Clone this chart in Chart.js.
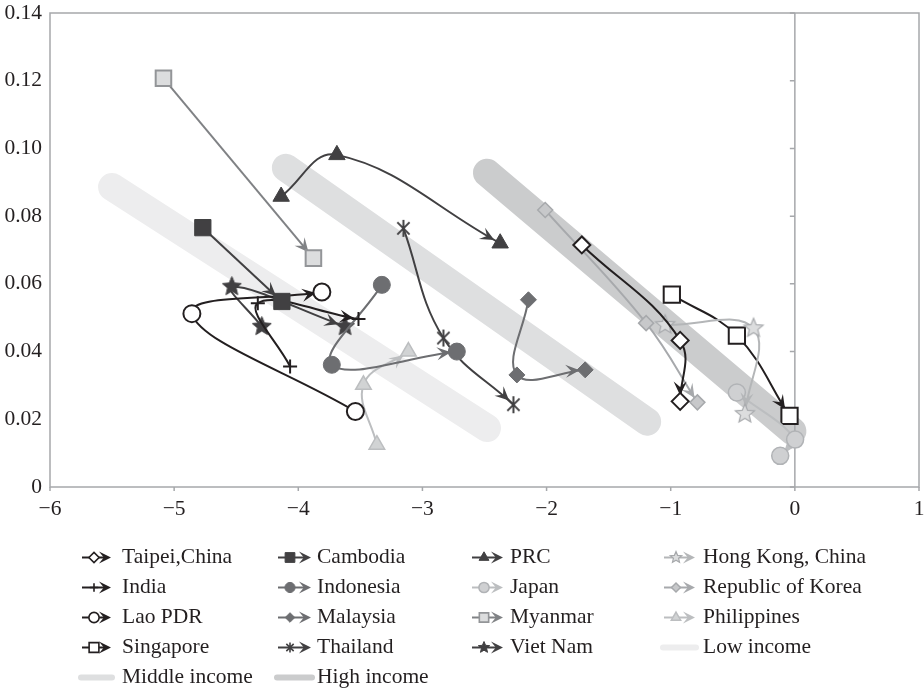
<!DOCTYPE html>
<html lang="en">
<head>
<meta charset="UTF-8">
<title>Income groups and paths</title>
<script src="https://cdn.jsdelivr.net/npm/chart.js@4"></script>
<style>
  html, body { margin: 0; padding: 0; background: #fff; overflow: hidden; }
  #chart { display: block; }
</style>
</head>
<body>
<canvas id="chart" width="924" height="692"></canvas>
<script>
// values (x, y per country, in time order)
const taipeiX = [-1.716, -0.924, -0.924];
const taipeiY = [0.0715, 0.0433, 0.0253];
const cambodiaX = [-4.769, -4.132];
const cambodiaY = [0.0766, 0.0548];
const prcX = [-4.138, -3.689, -2.374];
const prcY = [0.0858, 0.0981, 0.0720];
const hongKongX = [-1.045, -0.333, -0.403];
const hongKongY = [0.0479, 0.0469, 0.0216];
const indiaX = [-4.066, -4.326, -3.515];
const indiaY = [0.0356, 0.0543, 0.0496];
const indonesiaX = [-3.327, -3.730, -2.723];
const indonesiaY = [0.0597, 0.0361, 0.0400];
const japanX = [-0.467, 0.002, -0.118];
const japanY = [0.0279, 0.0140, 0.0092];
const koreaX = [-2.011, -1.198, -0.785];
const koreaY = [0.0818, 0.0484, 0.0250];
const laoX = [-3.540, -4.857, -3.810];
const laoY = [0.0223, 0.0512, 0.0576];
const malaysiaX = [-2.146, -2.239, -1.689];
const malaysiaY = [0.0553, 0.0331, 0.0346];
const myanmarX = [-5.086, -3.878];
const myanmarY = [0.1207, 0.0676];
const philippinesX = [-3.367, -3.475, -3.113];
const philippinesY = [0.0125, 0.0302, 0.0400];
const singaporeX = [-0.991, -0.467, -0.043];
const singaporeY = [0.0568, 0.0447, 0.0210];
const thailandX = [-3.153, -2.831, -2.267];
const thailandY = [0.0764, 0.0440, 0.0243];
const vietNamX = [-4.294, -4.535, -3.623];
const vietNamY = [0.0474, 0.0592, 0.0474];

// income bands
const lowIncomeX = [-5.50, -2.48];
const lowIncomeY = [0.0886, 0.0174];
const middleIncomeX = [-4.10, -1.19];
const middleIncomeY = [0.0943, 0.0193];
const highIncomeX = [-2.48, -0.02];
const highIncomeY = [0.0928, 0.0165];

const xTicks = [-6, -5, -4, -3, -2, -1, 0, 1];
const yTicks = [0, 0.02, 0.04, 0.06, 0.08, 0.10, 0.12, 0.14];

const FONT = '"Liberation Serif", "Times New Roman", serif';
const INK = '#231f20';
const FRAME = '#a6a8ab';

function pts(xs, ys) {
  return xs.map((x, i) => ({ x: x, y: ys[i] }));
}

// marker shapes (used for custom point images and for the legend)
function drawMark(ctx, shape, x, y, r, fill, stroke, lw) {
  ctx.save();
  ctx.beginPath();
  ctx.lineWidth = lw;
  ctx.strokeStyle = stroke;
  ctx.fillStyle = fill;
  ctx.lineJoin = 'miter';
  if (shape === 'circle') {
    ctx.arc(x, y, r, 0, Math.PI * 2);
  } else if (shape === 'rect') {
    const s = r * Math.SQRT1_2;
    ctx.rect(x - s, y - s, 2 * s, 2 * s);
  } else if (shape === 'rectRot') {
    ctx.moveTo(x - r, y); ctx.lineTo(x, y - r); ctx.lineTo(x + r, y); ctx.lineTo(x, y + r);
    ctx.closePath();
  } else if (shape === 'triangle') {
    for (let k = 0; k < 3; k++) {
      const a = -Math.PI / 2 + k * 2 * Math.PI / 3;
      const px = x + Math.cos(a) * r, py = y + Math.sin(a) * r;
      if (k) ctx.lineTo(px, py); else ctx.moveTo(px, py);
    }
    ctx.closePath();
  } else if (shape === 'star5') {
    for (let k = 0; k < 10; k++) {
      const rr = k % 2 ? r * 0.45 : r;
      const a = -Math.PI / 2 + k * Math.PI / 5;
      const px = x + Math.cos(a) * rr, py = y + Math.sin(a) * rr;
      if (k) ctx.lineTo(px, py); else ctx.moveTo(px, py);
    }
    ctx.closePath();
  } else if (shape === 'cross') {
    ctx.moveTo(x - r, y); ctx.lineTo(x + r, y);
    ctx.moveTo(x, y - r); ctx.lineTo(x, y + r);
    ctx.stroke();
    ctx.restore();
    return;
  } else if (shape === 'asterisk') {
    const d = r * 0.72;
    ctx.moveTo(x - d, y - d); ctx.lineTo(x + d, y + d);
    ctx.moveTo(x - d, y + d); ctx.lineTo(x + d, y - d);
    ctx.moveTo(x, y - r); ctx.lineTo(x, y + r);
    ctx.stroke();
    ctx.restore();
    return;
  }
  ctx.fill();
  if (lw) ctx.stroke();
  ctx.restore();
}

function markCanvas(shape, r, fill, stroke, lw) {
  const c = document.createElement('canvas');
  const size = Math.ceil(2 * r + lw + 2);
  c.width = size;
  c.height = size;
  drawMark(c.getContext('2d'), shape, size / 2, size / 2, r, fill, stroke, lw);
  return c;
}

function drawArrow(ctx, x, y, ang, len, half, color) {
  ctx.save();
  ctx.translate(x, y);
  ctx.rotate(ang);
  ctx.beginPath();
  ctx.moveTo(0, 0);
  ctx.lineTo(-len, -half);
  ctx.lineTo(-len * 0.6, 0);
  ctx.lineTo(-len, half);
  ctx.closePath();
  ctx.fillStyle = color;
  ctx.fill();
  ctx.restore();
}

// country series, in legend order
const countries = [
  ['Taipei,China', taipeiX, taipeiY, { line: INK, shape: 'rectRot', r: 8.5, fill: '#fff', edge: INK, lw: 2 }],
  ['Cambodia', cambodiaX, cambodiaY, { line: '#414042', shape: 'rect', r: 11.5, fill: '#414042', edge: '#414042', lw: 1 }],
  ['PRC', prcX, prcY, { line: '#414042', shape: 'triangle', r: 9.5, fill: '#414042', edge: '#414042', lw: 1 }],
  ['Hong Kong, China', hongKongX, hongKongY, { line: '#b4b6b8', shape: 'star5', r: 10, fill: '#dcddde', edge: '#a7a9ac', lw: 1.2, custom: true }],
  ['India', indiaX, indiaY, { line: INK, shape: 'cross', r: 7, fill: INK, edge: INK, lw: 2 }],
  ['Indonesia', indonesiaX, indonesiaY, { line: '#6d6e71', shape: 'circle', r: 8.5, fill: '#6d6e71', edge: '#6d6e71', lw: 1 }],
  ['Japan', japanX, japanY, { line: '#bcbec0', shape: 'circle', r: 8.5, fill: '#cfd0d2', edge: '#b1b3b6', lw: 1.5 }],
  ['Republic of Korea', koreaX, koreaY, { line: '#a7a9ac', shape: 'rectRot', r: 7.5, fill: '#c7c8ca', edge: '#a7a9ac', lw: 1.5 }],
  ['Lao PDR', laoX, laoY, { line: INK, shape: 'circle', r: 8.5, fill: '#fff', edge: INK, lw: 2 }],
  ['Malaysia', malaysiaX, malaysiaY, { line: '#6d6e71', shape: 'rectRot', r: 8, fill: '#6d6e71', edge: '#6d6e71', lw: 1 }],
  ['Myanmar', myanmarX, myanmarY, { line: '#808285', shape: 'rect', r: 11, fill: '#dcddde', edge: '#939598', lw: 2 }],
  ['Philippines', philippinesX, philippinesY, { line: '#bcbec0', shape: 'triangle', r: 9, fill: '#d1d3d4', edge: '#bcbec0', lw: 1.5 }],
  ['Singapore', singaporeX, singaporeY, { line: INK, shape: 'rect', r: 11.5, fill: '#fff', edge: INK, lw: 2 }],
  ['Thailand', thailandX, thailandY, { line: '#414042', shape: 'asterisk', r: 8.5, fill: '#414042', edge: '#414042', lw: 2, custom: true }],
  ['Viet Nam', vietNamX, vietNamY, { line: '#414042', shape: 'star5', r: 10, fill: '#414042', edge: '#414042', lw: 1, custom: true }]
];

const bands = [
  ['Low income', lowIncomeX, lowIncomeY, '#ededee', 12],
  ['Middle income', middleIncomeX, middleIncomeY, '#dedfe0', 11],
  ['High income', highIncomeX, highIncomeY, '#cbcccd', 10]
];

const datasets = [];
countries.forEach(([label, xs, ys, st]) => {
  datasets.push({
    label: label,
    data: pts(xs, ys),
    showLine: true,
    borderColor: st.line,
    borderWidth: 2,
    tension: xs.length > 2 ? 0.4 : 0,
    pointStyle: st.custom ? markCanvas(st.shape, st.r, st.fill, st.edge, st.lw) : st.shape,
    pointRadius: st.r,
    pointBackgroundColor: st.fill,
    pointBorderColor: st.edge,
    pointBorderWidth: st.lw,
    arrow: true,
    mark: st,
    order: 0
  });
});
bands.forEach(([label, xs, ys, color, ord]) => {
  datasets.push({
    label: label,
    data: pts(xs, ys),
    showLine: true,
    borderColor: color,
    borderWidth: 28,
    borderCapStyle: 'round',
    pointRadius: 0,
    band: true,
    order: ord
  });
});

// arrowheads at the end of each path
const arrowPlugin = {
  id: 'arrows',
  beforeDatasetDraw(chart, args) {
    const ds = chart.data.datasets[args.index];
    if (!ds.arrow) return;
    const meta = args.meta;
    const p = meta.data;
    if (meta.dataset && ds.tension) meta.dataset.updateControlPoints(chart.chartArea, meta.indexAxis);
    const last = p[p.length - 1];
    let fx = last.cp1x, fy = last.cp1y;
    if (fx === undefined || Math.hypot(last.x - fx, last.y - fy) < 1) {
      fx = p[p.length - 2].x; fy = p[p.length - 2].y;
    }
    const a = Math.atan2(last.y - fy, last.x - fx);
    const back = ds.pointRadius * 0.7;
    const ctx = chart.ctx;
    ctx.save();
    ctx.beginPath();
    ctx.rect(chart.chartArea.left, chart.chartArea.top, chart.chartArea.width, chart.chartArea.height);
    ctx.clip();
    drawArrow(ctx, last.x - Math.cos(a) * back, last.y - Math.sin(a) * back, a, 14, 6.5, ds.borderColor);
    ctx.restore();
  },
  // plot frame, zero line and tick marks, drawn over the bands
  afterDatasetDraw(chart, args) {
    const ds = chart.data.datasets[args.index];
    if (ds.label !== 'High income') return;
    const ctx = chart.ctx, area = chart.chartArea;
    const xs = chart.scales.x, ys = chart.scales.y;
    ctx.save();
    ctx.strokeStyle = FRAME;
    ctx.lineWidth = 1.5;
    ctx.strokeRect(area.left, area.top, area.width, area.height);
    const x0 = xs.getPixelForValue(0);
    ctx.beginPath();
    ctx.moveTo(x0, area.top);
    ctx.lineTo(x0, area.bottom);
    yTicks.forEach(v => {
      const py = ys.getPixelForValue(v);
      ctx.moveTo(x0 - 5, py);
      ctx.lineTo(x0, py);
    });
    xTicks.forEach(v => {
      const px = xs.getPixelForValue(v);
      ctx.moveTo(px, area.bottom);
      ctx.lineTo(px, area.bottom + 4);
    });
    ctx.stroke();
    ctx.restore();
  }
};

// legend laid out in four columns
const legendCols = [
  { icon0: 82, icon1: 111, text: 122 },
  { icon0: 278, icon1: 311, text: 317 },
  { icon0: 472, icon1: 503, text: 510 },
  { icon0: 664, icon1: 695, text: 703 }
];
const legendRowY = [557.5, 587.5, 617.5, 647.5, 677.5];

const legendPlugin = {
  id: 'gridLegend',
  afterDraw(chart) {
    const ctx = chart.ctx;
    const items = countries.map(c => c[0]).concat(bands.map(b => b[0]));
    ctx.save();
    ctx.font = '21.5px ' + FONT;
    ctx.textBaseline = 'middle';
    ctx.fillStyle = INK;
    items.forEach((label, i) => {
      const ds = chart.data.datasets.find(d => d.label === label);
      const col = legendCols[i % 4], y = legendRowY[Math.floor(i / 4)];
      if (ds.band) {
        ctx.save();
        ctx.strokeStyle = ds.borderColor;
        ctx.lineWidth = 6;
        ctx.lineCap = 'round';
        ctx.beginPath();
        ctx.moveTo(col.icon0 - 1, y);
        ctx.lineTo(col.icon1 + 1, y);
        ctx.stroke();
        ctx.restore();
      } else {
        const st = ds.mark;
        ctx.save();
        ctx.strokeStyle = ds.borderColor;
        ctx.lineWidth = 2;
        ctx.beginPath();
        ctx.moveTo(col.icon0, y);
        ctx.lineTo(col.icon1 - 6, y);
        ctx.stroke();
        drawArrow(ctx, col.icon1, y, 0, 12, 6, ds.borderColor);
        drawMark(ctx, st.shape, col.icon0 + 12, y, st.r * 0.6, st.fill, st.edge, Math.min(st.lw, 1.6));
        ctx.restore();
      }
      ctx.fillText(label, col.text, y);
    });
    ctx.restore();
  }
};

new Chart(document.getElementById('chart'), {
  type: 'scatter',
  data: { datasets: datasets },
  options: {
    responsive: false,
    animation: false,
    devicePixelRatio: 1,
    events: [],
    layout: { autoPadding: false, padding: { top: 13, right: 5, left: 0, bottom: 0 } },
    plugins: { legend: { display: false }, tooltip: { enabled: false } },
    scales: {
      x: {
        type: 'linear',
        min: -6,
        max: 1,
        afterBuildTicks: s => { s.ticks = xTicks.map(v => ({ value: v })); },
        afterFit: s => { s.height = 205; s.paddingLeft = 0; s.paddingRight = 0; },
        // tick marks are drawn by the plugin; tickLength only spaces the labels
        grid: { display: false, drawTicks: true, tickLength: 9 },
        border: { display: false },
        ticks: {
          padding: 0,
          color: INK,
          font: { family: FONT, size: 21.5 },
          callback: v => (v < 0 ? '\u2212' + Math.abs(v) : String(v))
        }
      },
      y: {
        type: 'linear',
        min: 0,
        max: 0.14,
        afterBuildTicks: s => { s.ticks = yTicks.map(v => ({ value: v })); },
        afterFit: s => { s.width = 50; s.paddingTop = 0; s.paddingBottom = 0; },
        grid: { display: false, drawTicks: false },
        border: { display: false },
        ticks: {
          padding: 8,
          color: INK,
          font: { family: FONT, size: 21.5 },
          callback: v => (v === 0 ? '0' : v.toFixed(2))
        }
      }
    }
  },
  plugins: [arrowPlugin, legendPlugin]
});
</script>
</body>
</html>
